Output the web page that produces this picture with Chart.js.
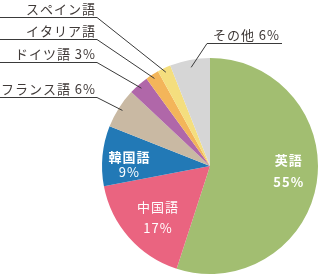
<!DOCTYPE html>
<html>
<head>
<meta charset="utf-8">
<script src="https://cdn.jsdelivr.net/npm/chart.js@4"></script>
<style>
  html, body { margin: 0; padding: 0; background: #fff; }
  #wrap { width: 320px; height: 278px; position: relative; }
</style>
</head>
<body>
<div id="wrap"><canvas id="graphique-langues"></canvas></div>
<script>
const langues = ["英語", "中国語", "韓国語", "フランス語", "ドイツ語", "イタリア語", "スペイン語", "その他"];
const parts = [55, 17, 9, 6, 3, 2, 2, 6];
const etiquettes = ["55%", "17%", "9%", "6%", "3%", "", "", "6%"];
const couleurs = ["#a2be71", "#ea6480", "#2279b6", "#c9b9a3", "#b067a9", "#f3b55a", "#f4de7e", "#d6d6d6"];

// position des textes : dedans (inside) ou dehors avec trait (lineY, coude)
const placement = [
    { type: "in", f: 0.72, dx: 2, dy: -7, gap: 22, bold: [true, true] },
    { type: "in", f: 0.68, dx: 3, dy: 3, gap: 21, bold: [false, false] },
    { type: "in", f: 0.74, dx: -1, dy: 6, gap: 15, bold: [true, false] },
    { type: "out", lineY: 97, x0: 0, x1: 97, side: "left" },
    { type: "out", lineY: 62, x0: 0, x1: 97, side: "left" },
    { type: "out", lineY: 39, x0: 0, x1: 97, side: "left" },
    { type: "out", lineY: 17, x0: 0, x1: 97, side: "left" },
    { type: "out", lineY: 43, x0: 282, x1: 207, side: "right", f: 0.93 },
];

const police = '"Noto Sans CJK JP", "Noto Sans", sans-serif';

const etiquettesPlugin = {
    id: "etiquettes",
    afterDatasetsDraw(chart) {
        const ctx = chart.ctx;
        const arcs = chart.getDatasetMeta(0).data;
        ctx.save();
        ctx.letterSpacing = "1px";
        arcs.forEach((arc, i) => {
            const p = placement[i];
            const { x, y, startAngle, endAngle, outerRadius } = arc.getProps(["x", "y", "startAngle", "endAngle", "outerRadius"], true);
            const mid = (startAngle + endAngle) / 2;
            if (p.type === "in") {
                const cx = x + Math.cos(mid) * outerRadius * p.f + p.dx;
                const cy = y + Math.sin(mid) * outerRadius * p.f + p.dy;
                ctx.fillStyle = "#ffffff";
                ctx.textAlign = "center";
                ctx.textBaseline = "middle";
                ctx.font = (p.bold[0] ? "bold " : "") + "13px " + police;
                ctx.fillText(langues[i], cx, cy - p.gap / 2);
                ctx.font = (p.bold[1] ? "bold " : "") + "13px " + police;
                ctx.fillText(etiquettes[i], cx, cy + p.gap / 2);
            } else {
                const r = outerRadius * (p.f || 0.96);
                const ex = x + Math.cos(mid) * r;
                const ey = y + Math.sin(mid) * r;
                ctx.strokeStyle = "#3a3a3a";
                ctx.lineWidth = 1;
                ctx.beginPath();
                ctx.moveTo(p.x0, p.lineY + 0.5);
                ctx.lineTo(p.x1, p.lineY + 0.5);
                ctx.lineTo(ex, ey);
                ctx.stroke();
                const texte = etiquettes[i] ? langues[i] + " " + etiquettes[i] : langues[i];
                ctx.fillStyle = "#403a38";
                ctx.font = "13px " + police;
                ctx.textBaseline = "alphabetic";
                ctx.textAlign = "right";
                const tx = p.side === "left" ? 96 : 280;
                ctx.fillText(texte, tx, p.lineY - 3);
            }
        });
        ctx.restore();
    }
};

const data = {
    labels: langues,
    datasets: [{
        data: parts,
        backgroundColor: couleurs,
        borderWidth: 0,
    }]
};

const config = {
    type: "pie",
    data: data,
    options: {
        responsive: true,
        maintainAspectRatio: false,
        animation: false,
        layout: { padding: { left: 102, right: 2, top: 58, bottom: 4 } },
        plugins: {
            legend: { display: false },
            tooltip: { enabled: false },
        },
    },
    plugins: [etiquettesPlugin],
};

const graph = new Chart(document.querySelector("#graphique-langues"), config);
</script>
</body>
</html>
